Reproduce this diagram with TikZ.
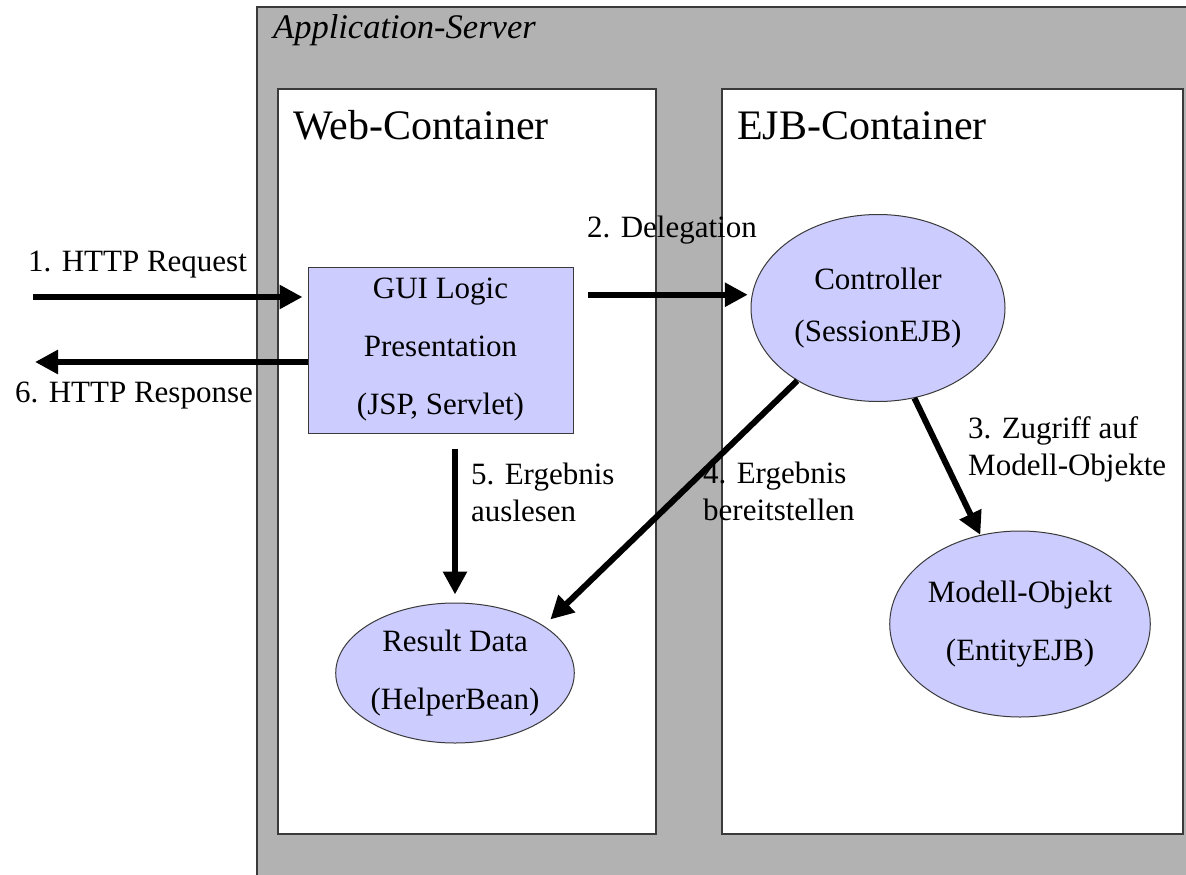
\documentclass[tikz,border=0pt]{standalone}
\usepackage{fontspec}
\setmainfont{Liberation Serif}
\usetikzlibrary{arrows.meta,shapes.geometric}
\definecolor{servergray}{HTML}{B2B2B2}
\definecolor{beanblue}{HTML}{CCCCFF}
\definecolor{framegray}{HTML}{3A3A3A}
\tikzstyle{container}=[draw=framegray,line width=1.5pt,fill=white]
\tikzstyle{title}=[inner sep=0pt,anchor=base west,font=\fontsize{42}{48}\selectfont]
\tikzstyle{lbl}=[inner sep=0pt,anchor=north west,align=left,font=\fontsize{31}{37}\selectfont]
\tikzstyle{bean}=[ellipse,draw=framegray,line width=1pt,fill=beanblue,inner sep=0pt,align=center]
\tikzstyle{flow}=[line width=6pt,-{Triangle[length=23pt,width=23pt]}]

\begin{document}
\begin{tikzpicture}[x=1pt,y=-1pt]
        \useasboundingbox (0,0) rectangle (1186,875);
        % application server
        \fill[servergray] (257,7) rectangle (1186,875);
        \draw[framegray,line width=1.5pt] (1190,7) -- (257,7) -- (257,880);
        \node[title,font=\fontsize{34.5}{40}\selectfont\itshape] (appsrv) at (273,39) {Application-Server};
        \draw[container] (278,89) rectangle (656,834);
        \draw[container] (722,89) rectangle (1183,834);
        \node[title] (webtitle) at (293,139) {Web-Container};
        \node[title] (ejbtitle) at (737,139) {EJB-Container};
        % components
        \node[draw=framegray,line width=1pt,fill=beanblue,inner sep=0pt,minimum width=265pt,minimum height=166pt,align=center,font=\fontsize{31}{58}\selectfont] (gui) at (440.5,350) {GUI Logic\\Presentation\\(JSP, Servlet)};
        \node[bean,minimum width=254pt,minimum height=187pt,font=\fontsize{31}{52}\selectfont] (ctrl) at (878,308) {Controller\\(SessionEJB)};
        \node[bean,minimum width=228pt,minimum height=140pt,font=\fontsize{31}{58}\selectfont] (res) at (455,673) {Result Data\\(HelperBean)};
        \node[bean,minimum width=257pt,minimum height=186pt,font=\fontsize{31}{58}\selectfont] (mod) at (1020,624) {Modell-Objekt\\(EntityEJB)};
        % client side
        \coordinate (reqstart) at (33,297);
        \coordinate (respend) at (35,362);
        % arrows
        \draw[flow,shorten >=5pt] (reqstart) -- (gui.west |- reqstart);
        \draw[flow] (gui.west |- respend) -- (respend);
        \draw[flow,shorten <=14pt,shorten >=4pt] (gui.east |- ctrl.174) -- (ctrl.174);
        \draw[flow,shorten <=15pt,shorten >=8pt] (res.north |- gui.south) -- (res.north);
        \draw[flow,shorten >=9pt] (ctrl.222) -- (res.28);
        \draw[flow] (ctrl.292) -- (mod.114);
        % labels
        \node[lbl,anchor=base west] (reqlbl) at (28,271) {1. HTTP Request};
        \node[lbl,anchor=base west] (resplbl) at (15,402) {6. HTTP Response};
        \node[lbl,anchor=base west] (delegation) at (587,237) {2. Delegation};
        \node[lbl] (readlbl) at (471,463) {5. Ergebnis\\auslesen};
        \node[lbl] (providelbl) at (703,462) {4. Ergebnis\\bereitstellen};
        \node[lbl] (accesslbl) at (968,416) {3. Zugriff auf\\Modell-Objekte};
\end{tikzpicture}
\end{document}
